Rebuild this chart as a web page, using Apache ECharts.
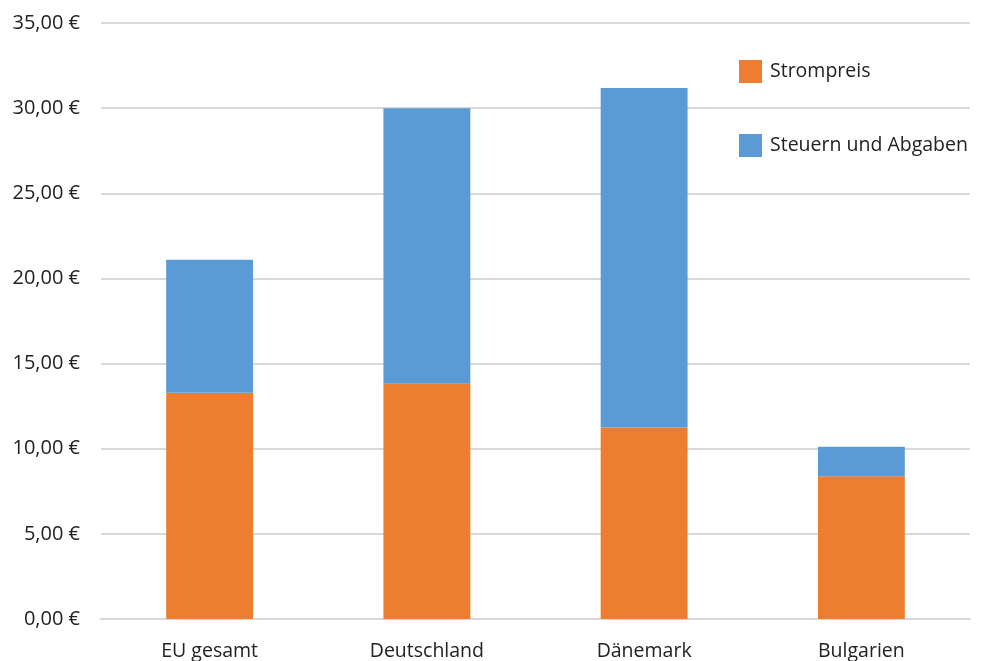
<!DOCTYPE html>
<html><head><meta charset="utf-8">
<script src="https://cdn.jsdelivr.net/npm/echarts@6/dist/echarts.min.js"></script>
<style>html,body{margin:0;padding:0;background:#fff}#c{width:981px;height:661px}</style>
</head><body><div id="c"></div>
<script>
var categories = ['EU gesamt', 'Deutschland', 'Dänemark', 'Bulgarien'];
var strompreis = [13.29, 13.82, 11.24, 8.38];
var steuern = [7.81, 16.17, 19.94, 1.74];
var seriesNames = ['Strompreis', 'Steuern und Abgaben'];

var font = '"Open Sans", "Noto Sans", sans-serif';
var chart = echarts.init(document.getElementById('c'));
chart.setOption({
  animation: false,
  backgroundColor: '#fff',
  grid: { left: 101, right: 11, top: 23, bottom: 41, containLabel: false },
  legend: {
    orient: 'vertical', left: 739, top: 60, padding: 0,
    itemWidth: 23, itemHeight: 23, itemGap: 51,
    icon: 'rect',
    textStyle: { fontFamily: font, fontSize: 19.5, color: '#222', padding: [0,0,0,3] },
    data: seriesNames
  },
  xAxis: {
    type: 'category', data: categories,
    axisLine: { show: true, lineStyle: { color: '#d9d9d9', width: 2 } },
    axisTick: { show: false },
    axisLabel: { fontFamily: font, fontSize: 19.5, color: '#222', margin: 22 }
  },
  yAxis: {
    type: 'value', min: 0, max: 35, interval: 5,
    axisLine: { show: false }, axisTick: { show: false },
    splitLine: { lineStyle: { color: '#d9d9d9', width: 2 } },
    axisLabel: { fontFamily: font, fontSize: 20, color: '#222', margin: 21,
      formatter: function (v) { return v.toFixed(2).replace('.', ',') + ' €'; } }
  },
  series: [
    { name: seriesNames[0], type: 'bar', stack: 'a', data: strompreis, barWidth: '40%',
      itemStyle: { color: '#ED7D31' } },
    { name: seriesNames[1], type: 'bar', stack: 'a', data: steuern, barWidth: '40%',
      itemStyle: { color: '#5B9BD5' } }
  ]
});
</script></body></html>
